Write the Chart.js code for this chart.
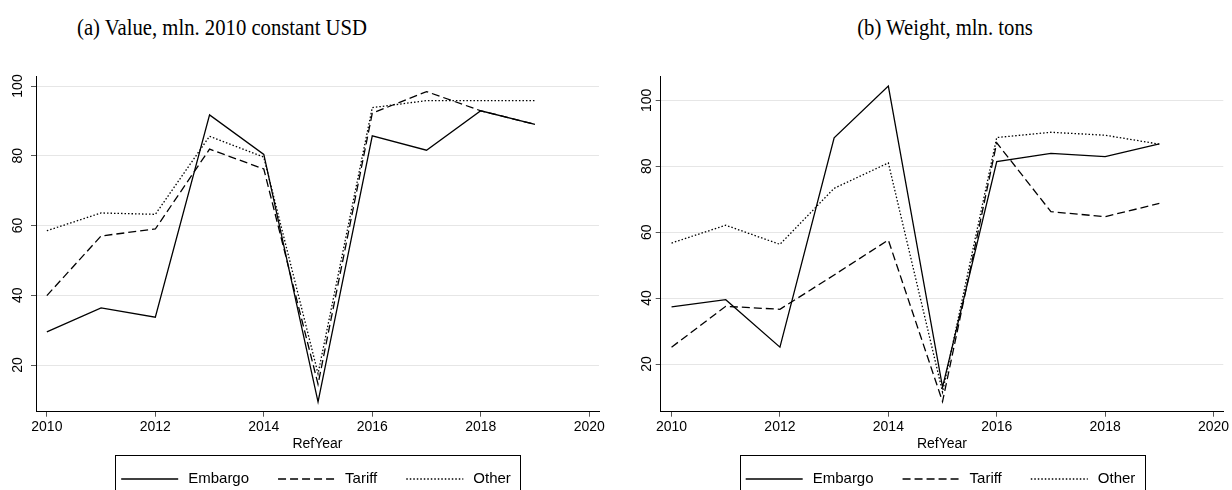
<!DOCTYPE html>
<html>
<head>
<meta charset="utf-8">
<script src="https://cdn.jsdelivr.net/npm/chart.js@4/dist/chart.umd.min.js"></script>
<style>
  html, body { margin: 0; padding: 0; background: #fff; }
  #wrap { position: relative; width: 1232px; height: 490px; overflow: hidden; background: #fff; }
  canvas { position: absolute; top: 60px; }
  .ttl {
    position: absolute; top: 13px; color: #000; white-space: nowrap;
    font-family: "Liberation Serif", "DejaVu Serif", serif; font-size: 23px; line-height: 30px;
    transform: translateX(-50%) scaleX(0.9);
  }
</style>
</head>
<body>
<div id="wrap">
  <div class="ttl" id="titleA" style="left:222px"></div>
  <div class="ttl" id="titleB" style="left:945px"></div>
  <canvas id="chartA" width="616" height="430" style="left:0"></canvas>
  <canvas id="chartB" width="616" height="430" style="left:616px"></canvas>
</div>
<script>
// Years on the horizontal axis
const years = [2010, 2011, 2012, 2013, 2014, 2015, 2016, 2017, 2018, 2019];
const seriesNames = ['Embargo', 'Tariff', 'Other'];
const xTickValues = [2010, 2012, 2014, 2016, 2018, 2020];
const yTickValues = [20, 40, 60, 80, 100];
const xAxisTitle = 'RefYear';
const panelTitles = ['(a) Value, mln. 2010 constant USD', '(b) Weight, mln. tons'];

// (a) Value, mln. 2010 constant USD
const valueEmbargo = [29.5, 36.4, 33.7, 91.7, 80.4, 9.4, 85.7, 81.6, 92.9, 89.0];
const valueTariff  = [39.9, 57.0, 59.0, 81.9, 76.2, 14.5, 92.2, 98.4, 92.9, 89.0];
const valueOther   = [58.5, 63.6, 63.2, 85.6, 79.6, 17.5, 93.8, 95.8, 95.8, 95.8];

// (b) Weight, mln. tons
const weightEmbargo = [37.3, 39.5, 25.1, 88.6, 104.3, 13.0, 81.4, 83.9, 82.9, 86.8];
const weightTariff  = [25.1, 37.5, 36.6, 47.0, 57.6, 8.6, 87.1, 66.2, 64.7, 68.7];
const weightOther   = [56.7, 62.1, 56.3, 73.3, 81.0, 11.5, 88.7, 90.3, 89.4, 86.7];

document.getElementById('titleA').textContent = panelTitles[0];
document.getElementById('titleB').textContent = panelTitles[1];

const SANS = '"Liberation Sans", Arial, Helvetica, sans-serif';
const lineStyles = [[], [8, 4], [1.5, 2]];

// Boxed legend under the x-axis title, centred on the plot area
const boxLegend = {
  id: 'boxLegend',
  afterDraw(chart, args, opts) {
    const ctx = chart.ctx;
    const area = chart.chartArea;
    ctx.save();
    ctx.font = opts.font;
    const items = chart.data.datasets.map(ds => ({
      label: ds.label, dash: ds.borderDash || [], w: ctx.measureText(ds.label).width
    }));
    let total = opts.padLeft + opts.padRight;
    items.forEach((it, i) => { total += opts.sample + opts.textGap + it.w + (i ? opts.itemGap : 0); });
    let x = (area.left + area.right) / 2 - total / 2;
    ctx.strokeStyle = '#000';
    ctx.lineWidth = 1;
    ctx.strokeRect(Math.round(x) + 0.5, opts.top + 0.5, Math.round(total), 100);
    x += opts.padLeft;
    items.forEach((it, i) => {
      if (i) x += opts.itemGap;
      ctx.setLineDash(it.dash);
      ctx.lineWidth = 1.3;
      ctx.beginPath();
      ctx.moveTo(x, opts.lineY);
      ctx.lineTo(x + opts.sample, opts.lineY);
      ctx.stroke();
      ctx.setLineDash([]);
      x += opts.sample + opts.textGap;
      ctx.fillStyle = '#000';
      ctx.textBaseline = 'middle';
      ctx.textAlign = 'left';
      ctx.fillText(it.label, x, opts.lineY);
      x += it.w;
    });
    ctx.restore();
  }
};

function makeChart(canvasId, values, yMin, yMax, axisWidth, labelPad, padRight) {
  const datasets = values.map((vals, i) => ({
    label: seriesNames[i],
    data: years.map((yr, j) => ({ x: yr, y: vals[j] })),
    borderColor: '#000',
    borderWidth: 1.3,
    borderDash: lineStyles[i],
    borderCapStyle: 'butt',
    borderJoinStyle: 'miter',
    pointRadius: 0,
    fill: false,
    tension: 0
  }));
  return new Chart(document.getElementById(canvasId), {
    type: 'line',
    data: { datasets },
    plugins: [boxLegend],
    options: {
      responsive: false,
      animation: false,
      devicePixelRatio: 1,
      layout: { padding: { top: 16, right: padRight, left: 0, bottom: 0 } },
      plugins: {
        legend: { display: false },
        tooltip: { enabled: false },
        boxLegend: {
          font: '15px ' + SANS, sample: 57, textGap: 10, itemGap: 29,
          padLeft: 6, padRight: 9, top: 395, lineY: 419
        }
      },
      scales: {
        x: {
          type: 'linear', min: 2009.8, max: 2020.18,
          afterBuildTicks: s => { s.ticks = xTickValues.map(v => ({ value: v })); },
          afterFit: s => { s.height = 78.3; },
          ticks: {
            autoSkip: false, minRotation: 0, maxRotation: 0, padding: 2, color: '#000',
            font: { family: SANS, size: 14 }, callback: v => String(v)
          },
          grid: { drawOnChartArea: false, tickLength: 5, tickColor: '#555', tickWidth: 1 },
          border: { color: '#000', width: 1 },
          title: {
            display: true, text: xAxisTitle, color: '#000',
            font: { family: SANS, size: 14 }, padding: { top: 0, bottom: 37.6 }
          }
        },
        y: {
          type: 'linear', min: yMin, max: yMax,
          afterBuildTicks: s => { s.ticks = yTickValues.map(v => ({ value: v })); },
          afterFit: s => { s.width = axisWidth; },
          ticks: {
            autoSkip: false, minRotation: 90, maxRotation: 90, crossAlign: 'center',
            padding: labelPad, color: '#000', font: { family: SANS, size: 14 },
            callback: v => String(v)
          },
          grid: { color: '#e6e6e6', lineWidth: 1, tickLength: 5, tickColor: '#555', tickWidth: 1 },
          border: { color: '#000', width: 1 }
        }
      }
    }
  });
}

makeChart('chartA', [valueEmbargo, valueTariff, valueOther], 6.61, 102.87, 36, 1, 17);
makeChart('chartB', [weightEmbargo, weightTariff, weightOther], 5.53, 107.37, 44.7, -3.5, 8.7);
</script>
</body>
</html>
